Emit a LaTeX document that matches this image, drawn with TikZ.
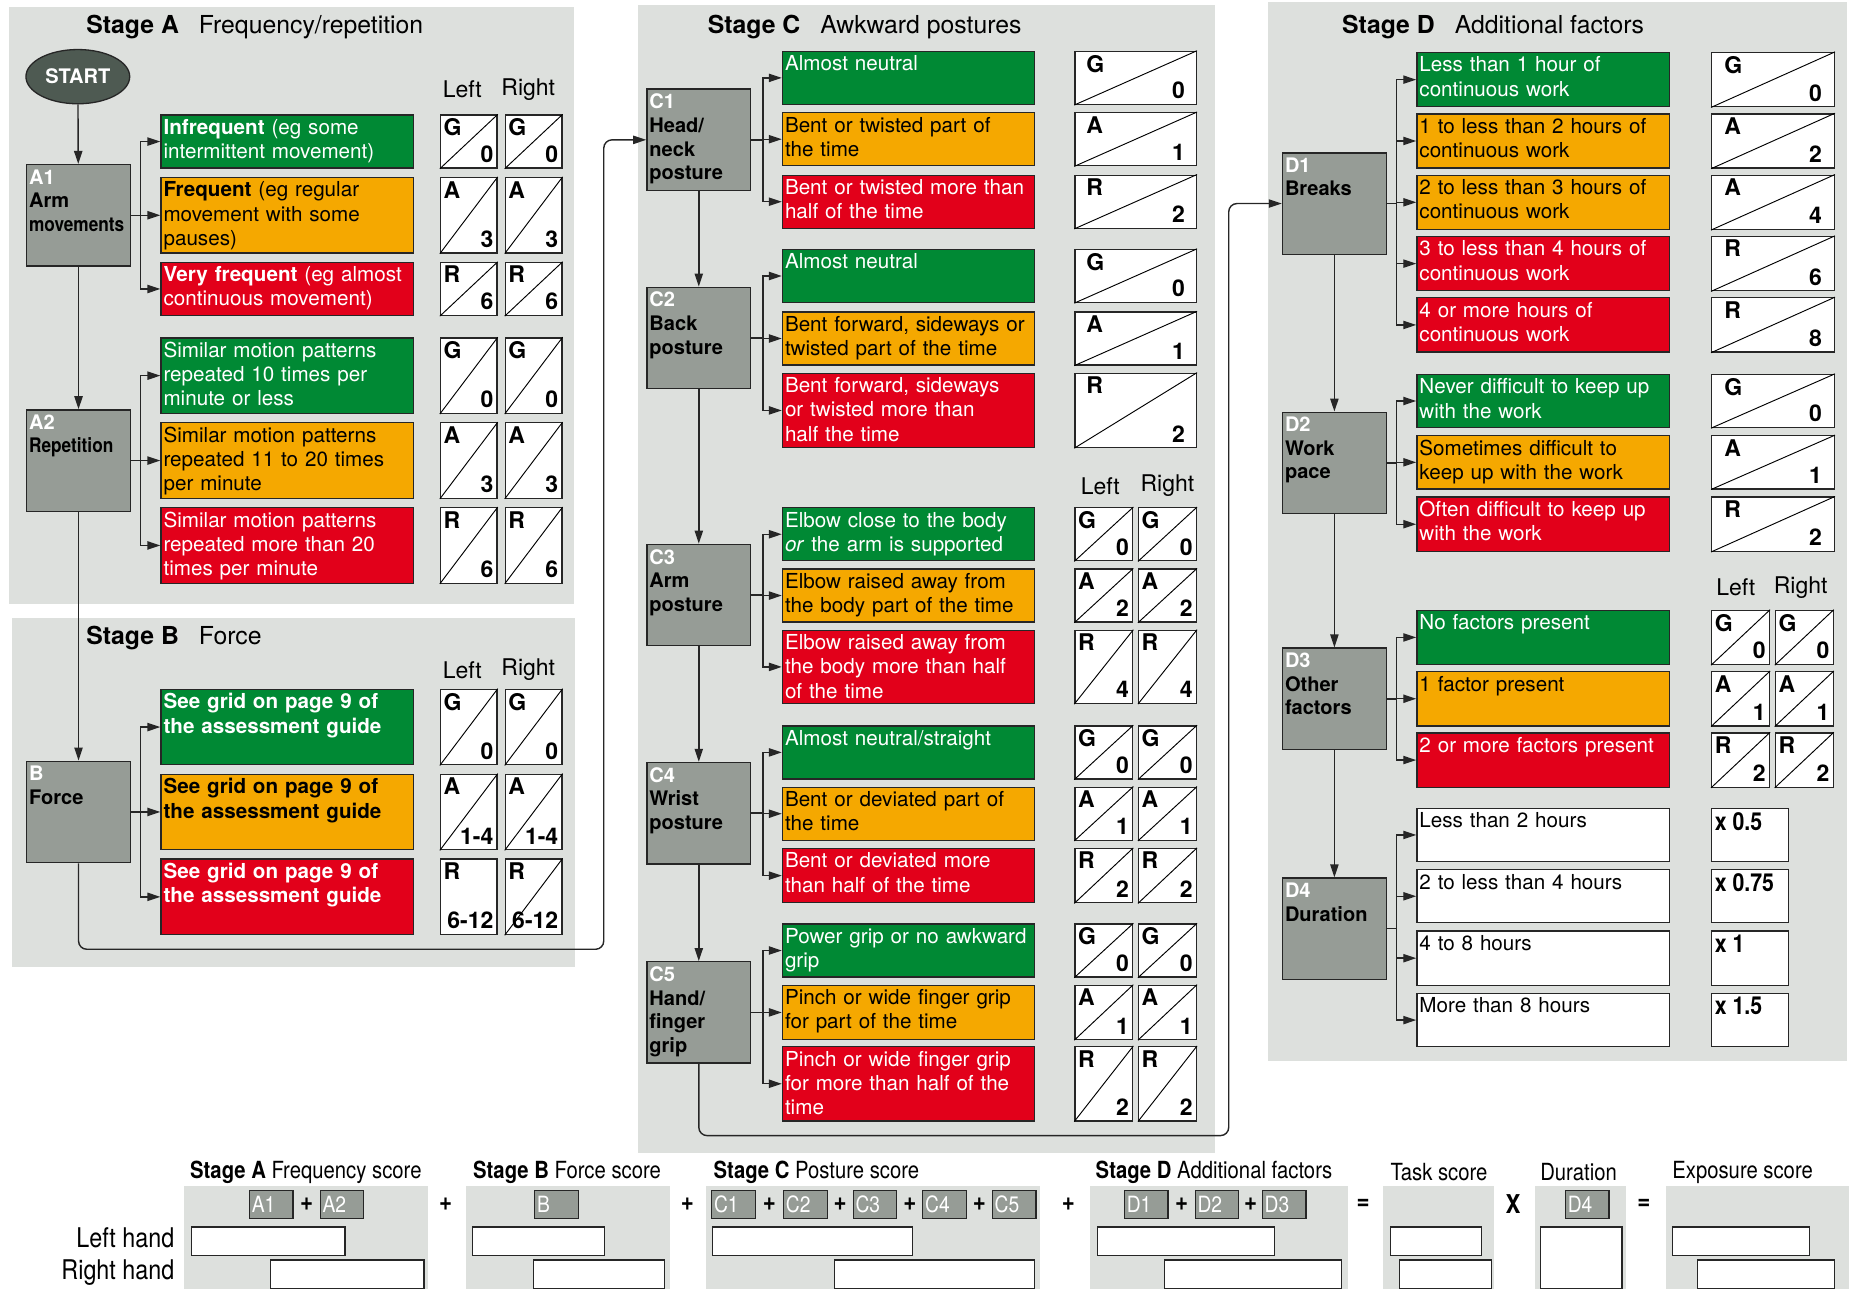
\documentclass[tikz,border=0pt]{standalone}
\usepackage{fontspec}
\usepackage{graphicx}
\setmainfont{TeX Gyre Heros}
\newfontfamily\condfont[FakeStretch=0.86]{TeX Gyre Heros}
\usetikzlibrary{arrows.meta,calc,shapes.geometric}
\definecolor{grn}{RGB}{0,137,52}
\definecolor{amb}{RGB}{245,168,0}
\definecolor{rd}{RGB}{226,0,26}
\definecolor{boxgray}{RGB}{150,156,150}
\definecolor{panelgray}{RGB}{221,224,221}
\definecolor{startgray}{RGB}{78,90,82}
\colorlet{lineclr}{black!85}

\tikzset{
  arr/.style={draw=lineclr,line width=1.2pt,-{Triangle[length=11pt,width=7pt]}},
  stagetitle/.style={anchor=west,inner sep=0pt,font=\fontsize{21}{24}\selectfont},
  lrhead/.style={inner sep=0pt,font=\fontsize{19.5}{22}\selectfont},
  startnode/.style={ellipse,draw=lineclr,line width=1.1pt,fill=startgray,text=white,
    minimum width=88pt,minimum height=46pt,inner sep=0pt,font=\bfseries\fontsize{17}{20}\selectfont},
  stepbox/.style={draw=lineclr,line width=1.2pt,fill=boxgray,minimum width=88pt,
    minimum height=86pt,anchor=north west,inner sep=0pt},
  stepcap/.style={anchor=north west,align=left,inner xsep=2.5pt,inner ysep=4.5pt,
    font=\bfseries\fontsize{17}{20}\selectfont},
  optbox/.style={draw=lineclr,line width=1.1pt,minimum width=214pt,anchor=north west,inner sep=0pt},
  opttext/.style={anchor=north west,text width=209pt,align=left,inner xsep=2.5pt,inner ysep=4pt,
    font=\fontsize{17.5}{20.5}\selectfont},
  scorebox/.style={draw=lineclr,line width=1.1pt,fill=white,anchor=north west,inner sep=0pt},
  diag/.style={draw=black,line width=0.8pt},
  scoreletter/.style={anchor=north west,inner xsep=3pt,inner ysep=3.5pt,
    font=\bfseries\fontsize{19.5}{22}\selectfont},
  scorenum/.style={anchor=south east,inner xsep=3.5pt,inner ysep=5pt,
    font=\bfseries\fontsize{19.5}{22}\selectfont},
  multtext/.style={anchor=north west,inner xsep=3pt,inner ysep=3.5pt,
    font=\condfont\bfseries\fontsize{21}{22}\selectfont},
  bothead/.style={anchor=west,inner sep=0pt,font=\condfont\fontsize{20}{24}\selectfont},
  handlbl/.style={anchor=east,inner sep=0pt,font=\condfont\fontsize{23}{24}\selectfont},
  tagbox/.style={draw=lineclr,line width=1pt,fill=boxgray,text=white,anchor=north west,
    minimum height=24pt,text width=33pt,align=left,inner xsep=2pt,inner ysep=0pt,
    font=\condfont\fontsize{19}{20}\selectfont},
  entry/.style={draw=lineclr,line width=1pt,fill=white,anchor=north west,minimum height=24pt,inner sep=0pt},
  oper/.style={inner sep=0pt,font=\condfont\bfseries\fontsize{22}{24}\selectfont},
}

% gray step box: name, corner, code, caption
\newcommand{\stagebox}[4]{%
  \node[stepbox] (#1) at (#2) {};
  \node[stepcap] at (#1.north west) {\textcolor{white}{#3}\\#4};
}
% coloured choice: name, corner, height, fill, text colour, text
\newcommand{\opt}[6]{%
  \node[optbox,fill=#4,minimum height=#3] (#1) at (#2) {};
  \node[opttext,text=#5] at (#1.north west) {#6};
}
% score cell: [insets] name, corner, width, height, letter, number
\newcommand{\score}[7][]{%
  \node[scorebox,minimum width=#4,minimum height=#5] (#2) at (#3) {};
  \draw[diag] (#2.south west) -- (#2.north east);
  \node[scoreletter,#1] at (#2.north west) {#6};
  \node[scorenum,#1] at (#2.south east) {#7};
}
% multiplier cell: name, corner, height, text
\newcommand{\mult}[4]{%
  \node[scorebox,minimum width=65,minimum height=#3] (#1) at (#2) {};
  \node[multtext] at (#1.north west) {#4};
}

\begin{document}
\begin{tikzpicture}[x=1pt,y=-1pt]
    \useasboundingbox (0,0) rectangle (1568,1093);

    % panels
    \fill [panelgray] (8,6) rectangle (487,512);
    \fill [panelgray] (10,524) rectangle (488,820);
    \fill [panelgray] (541,4) rectangle (1030,978);
    \fill [panelgray] (1075,2) rectangle (1566,900);

    % Stage A
    \node[stagetitle] at (73,23) {\textbf{Stage A}\hspace{17pt}Frequency/repetition};
    \node[startnode] (start) at (66,65) {START};
    \node[lrhead] at (392,76) {Left};
    \node[lrhead] at (448,76) {Right};
    \stagebox{A1}{22,139}{A1}{Arm\\\scalebox{0.86}[1]{movements}}
    \stagebox{A2}{22,347}{A2}{\scalebox{0.86}[1]{Repetition}}
    \opt{a1g}{136,97}{45}{grn}{white}{\textbf{Infrequent} (eg some\\intermittent movement)}
    \opt{a1a}{136,150}{64}{amb}{black}{\textbf{Frequent} (eg regular\\movement with some\\pauses)}
    \opt{a1r}{136,222}{45}{rd}{white}{\textbf{Very frequent} (eg almost\\continuous movement)}
    \opt{a2g}{136,286}{64}{grn}{white}{Similar motion patterns\\repeated 10 times per\\minute or less}
    \opt{a2a}{136,358}{64}{amb}{black}{Similar motion patterns\\repeated 11 to 20 times\\per minute}
    \opt{a2r}{136,430}{64}{rd}{white}{Similar motion patterns\\repeated more than 20\\times per minute}
    \score{a1gl}{373,97}{48}{45}{G}{0}
    \score{a1gr}{428,97}{48}{45}{G}{0}
    \score{a1al}{373,150}{48}{64}{A}{3}
    \score{a1ar}{428,150}{48}{64}{A}{3}
    \score{a1rl}{373,222}{48}{45}{R}{6}
    \score{a1rr}{428,222}{48}{45}{R}{6}
    \score{a2gl}{373,286}{48}{64}{G}{0}
    \score{a2gr}{428,286}{48}{64}{G}{0}
    \score{a2al}{373,358}{48}{64}{A}{3}
    \score{a2ar}{428,358}{48}{64}{A}{3}
    \score{a2rl}{373,430}{48}{64}{R}{6}
    \score{a2rr}{428,430}{48}{64}{R}{6}

    % Stage B
    \node[stagetitle] at (73,541) {\textbf{Stage B}\hspace{17pt}Force};
    \node[lrhead] at (392,568) {Left};
    \node[lrhead] at (448,568) {Right};
    \stagebox{B}{22,645}{B}{Force}
    \opt{bg}{136,584}{64}{grn}{white}{\bfseries See grid on page 9 of\\the assessment guide}
    \opt{ba}{136,656}{64}{amb}{black}{\bfseries See grid on page 9 of\\the assessment guide}
    \opt{br}{136,728}{64}{rd}{white}{\bfseries See grid on page 9 of\\the assessment guide}
    \score{bgl}{373,584}{48}{64}{G}{0}
    \score{bgr}{428,584}{48}{64}{G}{0}
    \score{bal}{373,656}{48}{64}{A}{1-4}
    \score{bar}{428,656}{48}{64}{A}{1-4}
    \node[scorebox,minimum width=48,minimum height=64] (brl) at (373,728) {};
    \node[scoreletter] at (brl.north west) {R};
    \node[scorenum] at (brl.south east) {6-12};
    \score{brr}{428,728}{48}{64}{R}{6-12}

    % Stage C
    \node[stagetitle] at (600,23) {\textbf{Stage C}\hspace{17pt}Awkward postures};
    \stagebox{C1}{548,75}{C1}{Head/\\neck\\posture}
    \stagebox{C2}{548,243}{C2}{Back\\posture}
    \stagebox{C3}{548,461}{C3}{Arm\\posture}
    \stagebox{C4}{548,646}{C4}{Wrist\\posture}
    \stagebox{C5}{548,815}{C5}{Hand/\\finger\\grip}
    \opt{c1g}{663,43}{45}{grn}{white}{Almost neutral}
    \opt{c1a}{663,95}{45}{amb}{black}{Bent or twisted part of\\the time}
    \opt{c1r}{663,148}{45}{rd}{white}{Bent or twisted more than\\half of the time}
    \opt{c2g}{663,211}{45}{grn}{white}{Almost neutral}
    \opt{c2a}{663,264}{45}{amb}{black}{Bent forward, sideways or\\twisted part of the time}
    \opt{c2r}{663,316}{63}{rd}{white}{Bent forward, sideways\\or twisted more than\\half the time}
    \opt{c3g}{663,430}{45}{grn}{white}{Elbow close to the body\\\textit{or} the arm is supported}
    \opt{c3a}{663,482}{45}{amb}{black}{Elbow raised away from\\the body part of the time}
    \opt{c3r}{663,534}{62}{rd}{white}{Elbow raised away from\\the body more than half\\of the time}
    \opt{c4g}{663,615}{45}{grn}{white}{Almost neutral/straight}
    \opt{c4a}{663,667}{45}{amb}{black}{Bent or deviated part of\\the time}
    \opt{c4r}{663,719}{46}{rd}{white}{Bent or deviated more\\than half of the time}
    \opt{c5g}{663,783}{45}{grn}{white}{Power grip or no awkward\\grip}
    \opt{c5a}{663,835}{46}{amb}{black}{Pinch or wide finger grip\\for part of the time}
    \opt{c5r}{663,887}{63}{rd}{white}{Pinch or wide finger grip\\for more than half of the\\time}
    \score[inner xsep=10pt]{c1gs}{911,43}{103}{45}{G}{0}
    \score[inner xsep=10pt]{c1as}{911,95}{103}{45}{A}{1}
    \score[inner xsep=10pt]{c1rs}{911,148}{103}{45}{R}{2}
    \score[inner xsep=10pt]{c2gs}{911,211}{103}{45}{G}{0}
    \score[inner xsep=10pt]{c2as}{911,264}{103}{45}{A}{1}
    \score[inner xsep=10pt]{c2rs}{911,316}{103}{63}{R}{2}
    \node[lrhead] at (933,412) {Left};
    \node[lrhead] at (990,412) {Right};
    \score{c3gl}{911,430}{49}{45}{G}{0}
    \score{c3gr}{965,430}{49}{45}{G}{0}
    \score{c3al}{911,482}{49}{45}{A}{2}
    \score{c3ar}{965,482}{49}{45}{A}{2}
    \score{c3rl}{911,534}{49}{62}{R}{4}
    \score{c3rr}{965,534}{49}{62}{R}{4}
    \score{c4gl}{911,615}{49}{45}{G}{0}
    \score{c4gr}{965,615}{49}{45}{G}{0}
    \score{c4al}{911,667}{49}{45}{A}{1}
    \score{c4ar}{965,667}{49}{45}{A}{1}
    \score{c4rl}{911,719}{49}{46}{R}{2}
    \score{c4rr}{965,719}{49}{46}{R}{2}
    \score{c5gl}{911,783}{49}{45}{G}{0}
    \score{c5gr}{965,783}{49}{45}{G}{0}
    \score{c5al}{911,835}{49}{46}{A}{1}
    \score{c5ar}{965,835}{49}{46}{A}{1}
    \score{c5rl}{911,887}{49}{63}{R}{2}
    \score{c5rr}{965,887}{49}{63}{R}{2}

    % Stage D
    \node[stagetitle] at (1138,23) {\textbf{Stage D}\hspace{17pt}Additional factors};
    \stagebox{D1}{1087,129}{D1}{Breaks}
    \stagebox{D2}{1087,349}{D2}{Work\\pace}
    \stagebox{D3}{1087,549}{D3}{Other\\factors}
    \stagebox{D4}{1087,744}{D4}{Duration}
    \opt{d1g}{1201,44}{46}{grn}{white}{Less than 1 hour of\\continuous work}
    \opt{d1a}{1201,96}{46}{amb}{black}{1 to less than 2 hours of\\continuous work}
    \opt{d1b}{1201,148}{46}{amb}{black}{2 to less than 3 hours of\\continuous work}
    \opt{d1r}{1201,200}{46}{rd}{white}{3 to less than 4 hours of\\continuous work}
    \opt{d1s}{1201,252}{46}{rd}{white}{4 or more hours of\\continuous work}
    \opt{d2g}{1201,317}{45}{grn}{white}{Never difficult to keep up\\with the work}
    \opt{d2a}{1201,369}{45}{amb}{black}{Sometimes difficult to\\keep up with the work}
    \opt{d2r}{1201,421}{46}{rd}{white}{Often difficult to keep up\\with the work}
    \opt{d3g}{1201,517}{46}{grn}{white}{No factors present}
    \opt{d3a}{1201,569}{46}{amb}{black}{1 factor present}
    \opt{d3r}{1201,621}{46}{rd}{white}{2 or more factors present}
    \opt{d4a}{1201,685}{45}{white}{black}{Less than 2 hours}
    \opt{d4b}{1201,737}{45}{white}{black}{2 to less than 4 hours}
    \opt{d4c}{1201,789}{46}{white}{black}{4 to 8 hours}
    \opt{d4d}{1201,842}{45}{white}{black}{More than 8 hours}
    \score[inner xsep=11pt]{d1gs}{1451,44}{104}{46}{G}{0}
    \score[inner xsep=11pt]{d1as}{1451,96}{104}{46}{A}{2}
    \score[inner xsep=11pt]{d1bs}{1451,148}{104}{46}{A}{4}
    \score[inner xsep=11pt]{d1rs}{1451,200}{104}{46}{R}{6}
    \score[inner xsep=11pt]{d1ss}{1451,252}{104}{46}{R}{8}
    \score[inner xsep=11pt]{d2gs}{1451,317}{104}{45}{G}{0}
    \score[inner xsep=11pt]{d2as}{1451,369}{104}{45}{A}{1}
    \score[inner xsep=11pt]{d2rs}{1451,421}{104}{46}{R}{2}
    \node[lrhead] at (1472,498) {Left};
    \node[lrhead] at (1527,498) {Right};
    \score{d3gl}{1451,517}{49}{46}{G}{0}
    \score{d3gr}{1505,517}{49}{46}{G}{0}
    \score{d3al}{1451,569}{49}{46}{A}{1}
    \score{d3ar}{1505,569}{49}{46}{A}{1}
    \score{d3rl}{1451,621}{49}{46}{R}{2}
    \score{d3rr}{1505,621}{49}{46}{R}{2}
    \mult{d4am}{1451,685}{45}{x 0.5}
    \mult{d4bm}{1451,737}{45}{x 0.75}
    \mult{d4cm}{1451,789}{46}{x 1}
    \mult{d4dm}{1451,842}{45}{x 1.5}

    % flow down each stage
    \draw[arr] (start) -- (A1);
    \draw[arr] (A1) -- (A2);
    \draw[arr] (A2) -- (B);
    \draw[arr] (C1) -- (C2);
    \draw[arr] (C2) -- (C3);
    \draw[arr] (C3) -- (C4);
    \draw[arr] (C4) -- (C5);
    \draw[arr] (D1) -- (D2);
    \draw[arr] (D2) -- (D3);
    \draw[arr] (D3) -- (D4);
    \coordinate (bturn) at (512,805);
    \coordinate (cturn) at (1042,963);
    \draw[arr,rounded corners=7pt] (B.south) |- (bturn) |- (C1.west);
    \draw[arr,rounded corners=7pt] (C5.south) |- (cturn) |- (D1.west);

    % branches to the choices
    \foreach \o in {a1g,a1a,a1r} {\draw[arr] (A1.east) -- ++(8,0) |- (\o.west);}
    \foreach \o in {a2g,a2a,a2r} {\draw[arr] (A2.east) -- ++(8,0) |- (\o.west);}
    \foreach \o in {bg,ba,br} {\draw[arr] (B.east) -- ++(8,0) |- (\o.west);}
    \foreach \o in {c1g,c1a,c1r} {\draw[arr] (C1.east) -- ++(10,0) |- (\o.west);}
    \foreach \o in {c2g,c2a,c2r} {\draw[arr] (C2.east) -- ++(10,0) |- (\o.west);}
    \foreach \o in {c3g,c3a,c3r} {\draw[arr] (C3.east) -- ++(10,0) |- (\o.west);}
    \foreach \o in {c4g,c4a,c4r} {\draw[arr] (C4.east) -- ++(10,0) |- (\o.west);}
    \foreach \o in {c5g,c5a,c5r} {\draw[arr] (C5.east) -- ++(10,0) |- (\o.west);}
    \foreach \o in {d1g,d1a,d1b,d1r,d1s} {\draw[arr] (D1.east) -- ++(8,0) |- (\o.west);}
    \foreach \o in {d2g,d2a,d2r} {\draw[arr] (D2.east) -- ++(8,0) |- (\o.west);}
    \foreach \o in {d3g,d3a,d3r} {\draw[arr] (D3.east) -- ++(8,0) |- (\o.west);}
    \foreach \o in {d4a,d4b,d4c,d4d} {\draw[arr] (D4.east) -- ++(8,0) |- (\o.west);}

    % score sheet
    \fill [panelgray] (156,1006) rectangle (363,1093);
    \fill [panelgray] (395,1006) rectangle (568,1093);
    \fill [panelgray] (599,1006) rectangle (882,1093);
    \fill [panelgray] (924,1006) rectangle (1143,1093);
    \fill [panelgray] (1173,1006) rectangle (1267,1093);
    \fill [panelgray] (1302,1006) rectangle (1379,1093);
    \fill [panelgray] (1413,1006) rectangle (1568,1093);
    \node[bothead] at (161,994) {\textbf{Stage A} Frequency score};
    \node[bothead] at (401,994) {\textbf{Stage B} Force score};
    \node[bothead] at (605,994) {\textbf{Stage C} Posture score};
    \node[bothead] at (929,994) {\textbf{Stage D} Additional factors};
    \node[bothead] at (1179,994) {Task score};
    \node[bothead] at (1306,994) {Duration};
    \node[bothead] at (1418,994) {Exposure score};
    \node[handlbl] at (148,1050) {Left hand};
    \node[handlbl] at (148,1079) {Right hand};

    \node[tagbox] (sA1) at (211,1009) {A1};
    \node[tagbox] (sA2) at (271,1009) {A2};
    \node[tagbox] (sB) at (453,1009) {B};
    \node[tagbox] (sC1) at (603,1009) {C1};
    \node[tagbox] (sC2) at (664,1009) {C2};
    \node[tagbox] (sC3) at (723,1009) {C3};
    \node[tagbox] (sC4) at (782,1009) {C4};
    \node[tagbox] (sC5) at (841,1009) {C5};
    \node[tagbox] (sD1) at (953,1009) {D1};
    \node[tagbox] (sD2) at (1013,1009) {D2};
    \node[tagbox] (sD3) at (1070,1009) {D3};
    \node[tagbox] (sD4) at (1327,1009) {D4};
    \node[oper] at ($(sA1.east)!0.5!(sA2.west)$) {+};
    \node[oper] at ($(sC1.east)!0.5!(sC2.west)$) {+};
    \node[oper] at ($(sC2.east)!0.5!(sC3.west)$) {+};
    \node[oper] at ($(sC3.east)!0.5!(sC4.west)$) {+};
    \node[oper] at ($(sC4.east)!0.5!(sC5.west)$) {+};
    \node[oper] at ($(sD1.east)!0.5!(sD2.west)$) {+};
    \node[oper] at ($(sD2.east)!0.5!(sD3.west)$) {+};
    \node[oper] at (378,1021) {+};
    \node[oper] at (583,1021) {+};
    \node[oper] at (906,1021) {+};
    \node[oper] at (1156,1021) {=};
    \node[oper] at (1283,1021) {X};
    \node[oper] at (1394,1021) {=};

    \node[entry,minimum width=130] (lA) at (162,1040) {};
    \node[entry,minimum width=130] (rA) at (229,1068) {};
    \node[entry,minimum width=112] (lB) at (400,1040) {};
    \node[entry,minimum width=111] (rB) at (452,1068) {};
    \node[entry,minimum width=169] (lC) at (604,1040) {};
    \node[entry,minimum width=170] (rC) at (707,1068) {};
    \node[entry,minimum width=150] (lD) at (930,1040) {};
    \node[entry,minimum width=150] (rD) at (987,1068) {};
    \node[entry,minimum width=77] (lT) at (1179,1040) {};
    \node[entry,minimum width=78] (rT) at (1186,1068) {};
    \node[entry,minimum width=69,minimum height=52] (dur) at (1306,1040) {};
    \node[entry,minimum width=116] (lE) at (1418,1040) {};
    \node[entry,minimum width=116] (rE) at (1439,1068) {};
\end{tikzpicture}
\end{document}
